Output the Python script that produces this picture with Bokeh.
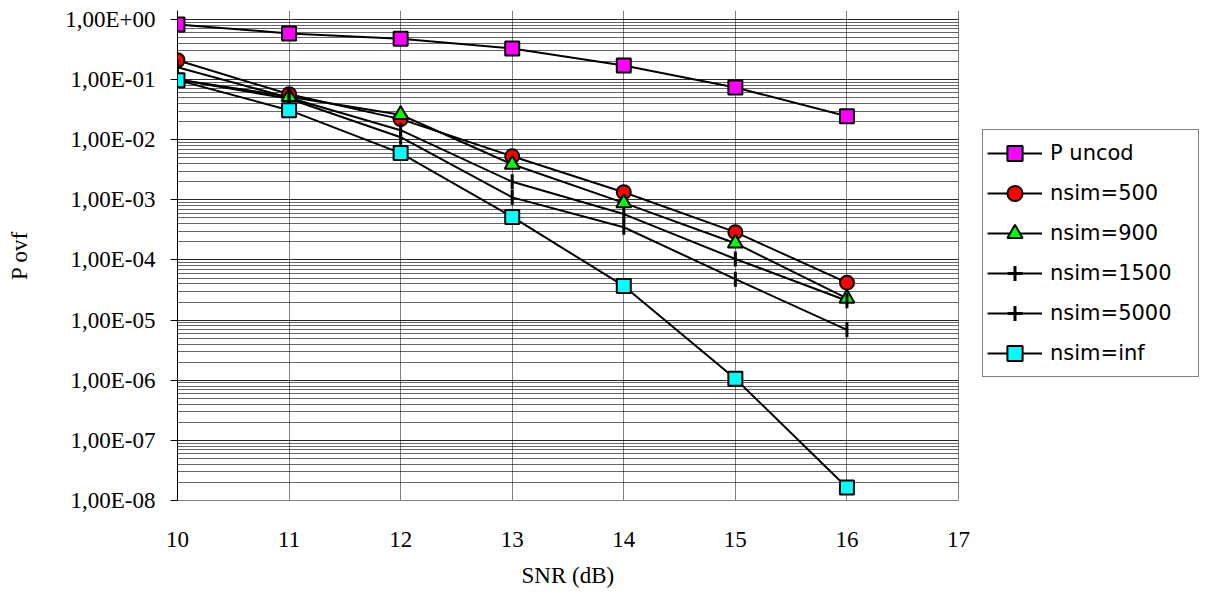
import math
from bokeh.plotting import figure
from bokeh.models import (ColumnDataSource, Range1d, FixedTicker, CustomJSTickFormatter,
                          Legend, LegendItem, Title)
from bokeh.embed import file_html
from bokeh.resources import INLINE

# ---------------- data ----------------
snr = [10, 11, 12, 13, 14, 15, 16]
p_uncod = [0.826, 0.586, 0.48, 0.33, 0.172, 0.074, 0.0246]
nsim_500 = [0.21, 0.057, 0.022, 0.0053, 0.00134, 2.9e-4, 4.2e-5]
nsim_900 = [0.10, 0.052, 0.026, 0.0039, 0.00089, 1.9e-4, 2.3e-5]
nsim_1500 = [0.16, 0.050, 0.0144, 0.0020, 5.8e-4, 1.04e-4, 2.1e-5]
nsim_5000 = [0.10, 0.048, 0.011, 0.0011, 3.5e-4, 4.8e-5, 6.9e-6]
nsim_inf = [0.098, 0.031, 0.006, 5.2e-4, 3.7e-5, 1.06e-6, 1.65e-8]

series_labels = ["P uncod", "nsim=500", "nsim=900", "nsim=1500", "nsim=5000", "nsim=inf"]
x_ticks = [10, 11, 12, 13, 14, 15, 16, 17]
y_ticks = [1e-8, 1e-7, 1e-6, 1e-5, 1e-4, 1e-3, 1e-2, 1e-1, 1e0]
y_tick_labels = ["1,00E-08", "1,00E-07", "1,00E-06", "1,00E-05", "1,00E-04",
                 "1,00E-03", "1,00E-02", "1,00E-01", "1,00E+00"]
y_minor = [m * t for t in y_ticks[:-1] for m in range(2, 10)] + [m * 1.0 for m in range(2, 10)]
x_title = "SNR (dB)"
y_title = "P ovf"

# ---------------- layout (pixels) ----------------
W, H = 1205, 602
LEFT, RIGHT_BORDER, TOP, BOTTOM = 177, 5, 10, 102
AXIS_PX = 781                      # pixels spanned by x = 10 .. 17
frame_w = W - LEFT - RIGHT_BORDER  # plot frame extends under the legend area
x_lo, x_hi = x_ticks[0], x_ticks[-1]
x_end = x_lo + frame_w * (x_hi - x_lo) / AXIS_PX

p = figure(width=W, height=H, output_backend="svg", toolbar_location=None,
           y_axis_type="log", x_range=Range1d(x_lo, x_end), y_range=Range1d(1e-8, 1.41),
           min_border_left=LEFT, min_border_right=RIGHT_BORDER,
           min_border_top=TOP, min_border_bottom=BOTTOM)
p.outline_line_color = None
p.background_fill_color = "white"
p.border_fill_color = "white"

serif = "Liberation Serif"

# x axis
p.xaxis.ticker = FixedTicker(ticks=x_ticks)
p.xaxis.bounds = (x_lo, x_hi)
p.xaxis.axis_line_color = "#808080"
p.xaxis.major_tick_out = 0
p.xaxis.major_tick_in = 0
p.xaxis.major_tick_line_color = None
p.xaxis.minor_tick_line_color = None
p.xaxis.major_label_text_font = serif
p.xaxis.major_label_text_font_size = "23px"
p.xaxis.major_label_text_color = "black"
p.xaxis.major_label_standoff = 31

# x-axis title, centred under the 10..17 span (the frame continues under the legend)
title_w = 93
xt = Title(text=x_title, align="left", offset=AXIS_PX / 2 - title_w / 2, standoff=22,
           text_font=serif, text_font_size="23px", text_font_style="normal",
           text_color="black")
p.add_layout(xt, "below")

# y axis
p.yaxis.ticker = FixedTicker(ticks=y_ticks, minor_ticks=y_minor)
p.yaxis.formatter = CustomJSTickFormatter(args=dict(vals=y_ticks, labs=y_tick_labels), code="""
    let best = 0, bd = 1e9;
    for (let i = 0; i < vals.length; i++) {
        const d = Math.abs(Math.log10(vals[i]) - Math.log10(tick));
        if (d < bd) { bd = d; best = i; }
    }
    return labs[best];
""")
p.yaxis.axis_line_color = "black"
p.yaxis.major_tick_out = 7
p.yaxis.major_tick_in = 0
p.yaxis.major_tick_line_color = "black"
p.yaxis.minor_tick_line_color = None
p.yaxis.major_label_text_font = serif
p.yaxis.major_label_text_font_size = "23px"
p.yaxis.major_label_text_color = "black"
p.yaxis.major_label_standoff = 15
p.yaxis.axis_label = y_title
p.yaxis.axis_label_text_font = serif
p.yaxis.axis_label_text_font_size = "23px"
p.yaxis.axis_label_text_font_style = "normal"
p.yaxis.axis_label_text_color = "black"
p.yaxis.axis_label_standoff = 30

# grids (limited to the x = 10 .. 17 area)
p.xgrid.bounds = (x_lo, x_hi)
p.xgrid.grid_line_color = "#808080"
p.xgrid.grid_line_width = 1
p.ygrid.cross_bounds = (x_lo, x_hi)
p.ygrid.grid_line_color = "black"
p.ygrid.grid_line_alpha = 0.85
p.ygrid.minor_grid_line_color = "black"
p.ygrid.minor_grid_line_alpha = 0.6

# ---------------- series ----------------
all_series = [p_uncod, nsim_500, nsim_900, nsim_1500, nsim_5000, nsim_inf]
sources = [ColumnDataSource(dict(x=snr, y=s)) for s in all_series]

line_rs = []
for src in sources:
    line_rs.append(p.line("x", "y", source=src, line_color="black", line_width=2))

marker_rs = []
marker_rs.append(p.scatter("x", "y", source=sources[0], marker="square", size=14,
                           fill_color="#FF00FF", line_color="black", line_width=2))
marker_rs.append(p.scatter("x", "y", source=sources[1], marker="circle", size=14,
                           fill_color="#FF0000", line_color="black", line_width=2))
marker_rs.append(p.scatter("x", "y", source=sources[2], marker="triangle", size=15,
                           fill_color="#00FF00", line_color="black", line_width=2))
marker_rs.append(p.scatter("x", "y", source=sources[3], marker="dash", size=15, angle=math.pi / 2,
                           line_color="black", line_width=3))
marker_rs.append(p.scatter("x", "y", source=sources[4], marker="dash", size=15, angle=math.pi / 2,
                           line_color="black", line_width=3))
marker_rs.append(p.scatter("x", "y", source=sources[5], marker="square", size=14,
                           fill_color="#00FFFF", line_color="black", line_width=2))

# legend-only glyphs for the tick markers: zero-size crosses (invisible on the plot;
# in the legend the cross merges with the line into a vertical tick)
tick_leg_1500 = p.scatter("x", "y", source=sources[3], marker="cross", size=0,
                          line_color="black", line_width=3)
tick_leg_5000 = p.scatter("x", "y", source=sources[4], marker="cross", size=0,
                          line_color="black", line_width=3)

legend_marks = [marker_rs[0], marker_rs[1], marker_rs[2], tick_leg_1500, tick_leg_5000, marker_rs[5]]
items = [LegendItem(label=lab, renderers=[lr, mr])
         for lab, lr, mr in zip(series_labels, line_rs, legend_marks)]
legend = Legend(items=items, location=(805, 123))
legend.margin = 0
legend.label_text_font = "DejaVu Sans"
legend.label_text_font_size = "21px"
legend.label_text_color = "black"
legend.glyph_width = 55
legend.glyph_height = 38
legend.label_height = 38
legend.spacing = 2
legend.padding = 4
legend.label_standoff = 8
legend.label_width = 144
legend.border_line_color = "black"
legend.border_line_width = 1
legend.background_fill_color = "white"
legend.background_fill_alpha = 1
p.add_layout(legend, "center")

open("out.html", "w").write(file_html(p, INLINE))
